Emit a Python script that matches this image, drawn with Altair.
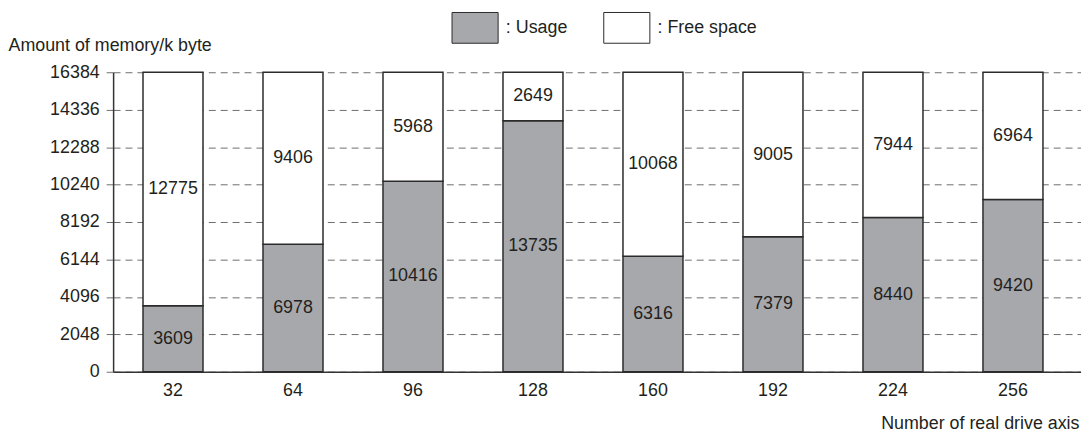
import altair as alt
import pandas as pd

axes = [32, 64, 96, 128, 160, 192, 224, 256]
usage = [3609, 6978, 10416, 13735, 6316, 7379, 8440, 9420]
free = [12775, 9406, 5968, 2649, 10068, 9005, 7944, 6964]
kinds = ["Usage", "Free space"]
y_ticks = [0, 2048, 4096, 6144, 8192, 10240, 12288, 14336, 16384]

rows = []
for a, u, f in zip(axes, usage, free):
    rows.append({"axis": str(a), "kind": kinds[0], "ord": 0, "value": u})
    rows.append({"axis": str(a), "kind": kinds[1], "ord": 1, "value": f})
df = pd.DataFrame(rows)

FONT = "Liberation Sans"
TXT = "#231f20"

x_scale = alt.Scale(paddingInner=0.5, paddingOuter=0.283, align=0.44)
x_axis = alt.Axis(
    title="Number of real drive axis",
    labelAngle=0,
    ticks=False,
    labelPadding=10,
    labelFontSize=18,
    labelColor=TXT,
    domainColor="#333333",
    domainWidth=1.5,
    grid=False,
    titleFontSize=18,
    titleFontWeight="normal",
    titleColor=TXT,
    titleAlign="right",
    titleBaseline="alphabetic",
    titleX=974,
    titleY=57,
)

y_axis = alt.Axis(
    title="Amount of memory/k byte",
    values=y_ticks,
    format="d",
    labelOverlap=False,
    labelFontSize=18,
    labelColor=TXT,
    labelPadding=7,
    tickSize=7,
    tickColor="#6d6d6d",
    tickWidth=1,
    domainColor="#333333",
    domainWidth=1.5,
    grid=True,
    gridColor="#6d6d6d",
    gridWidth=1,
    gridDash=[7, 5],
    titleFontSize=18,
    titleFontWeight="normal",
    titleColor=TXT,
    titleAngle=0,
    titleAlign="left",
    titleBaseline="alphabetic",
    titleX=-106,
    titleY=-22,
)

y_scale = alt.Scale(domain=[0, 16384], nice=False)
x_sort = [str(a) for a in axes]

base = alt.Chart(df).transform_stack(
    stack="value",
    groupby=["axis"],
    as_=["y0", "y1"],
    sort=[alt.SortField("ord", order="ascending")],
).transform_calculate(mid="(datum.y0 + datum.y1) / 2")

bars = base.mark_bar(stroke="#2b2b2b", strokeWidth=1.5).encode(
    x=alt.X("axis:N", sort=x_sort, scale=x_scale, axis=x_axis),
    y=alt.Y("y0:Q", scale=y_scale, axis=y_axis),
    y2="y1:Q",
    color=alt.Color(
        "kind:N",
        scale=alt.Scale(domain=kinds, range=["#a7a8ab", "#ffffff"]),
        legend=alt.Legend(
            title=None,
            orient="none",
            direction="horizontal",
            legendX=349,
            legendY=-61,
            padding=0,
            symbolType="M-1.5,-1L1.5,-1L1.5,1L-1.5,1Z",
            symbolSize=961,
            symbolStrokeColor="#2b2b2b",
            symbolStrokeWidth=1,
            symbolOpacity=1,
            labelFontSize=18,
            labelColor=TXT,
            labelOffset=15,
            columnPadding=33,
            labelExpr="': ' + datum.label",
        ),
    ),
)

labels = base.mark_text(fontSize=18, color=TXT, baseline="middle", font=FONT).encode(
    x=alt.X("axis:N", sort=x_sort, scale=x_scale, axis=x_axis),
    y=alt.Y("mid:Q", scale=y_scale, axis=y_axis),
    text=alt.Text("value:Q", format="d"),
)

chart = (
    alt.layer(bars, labels)
    .properties(
        width=976,
        height=302,
        padding={"left": 0, "top": 2, "right": 0, "bottom": 0},
    )
    .configure(font=FONT)
    .configure_view(stroke=None)
)

chart.save("out.html", embed_options={"renderer": "svg", "actions": False})
